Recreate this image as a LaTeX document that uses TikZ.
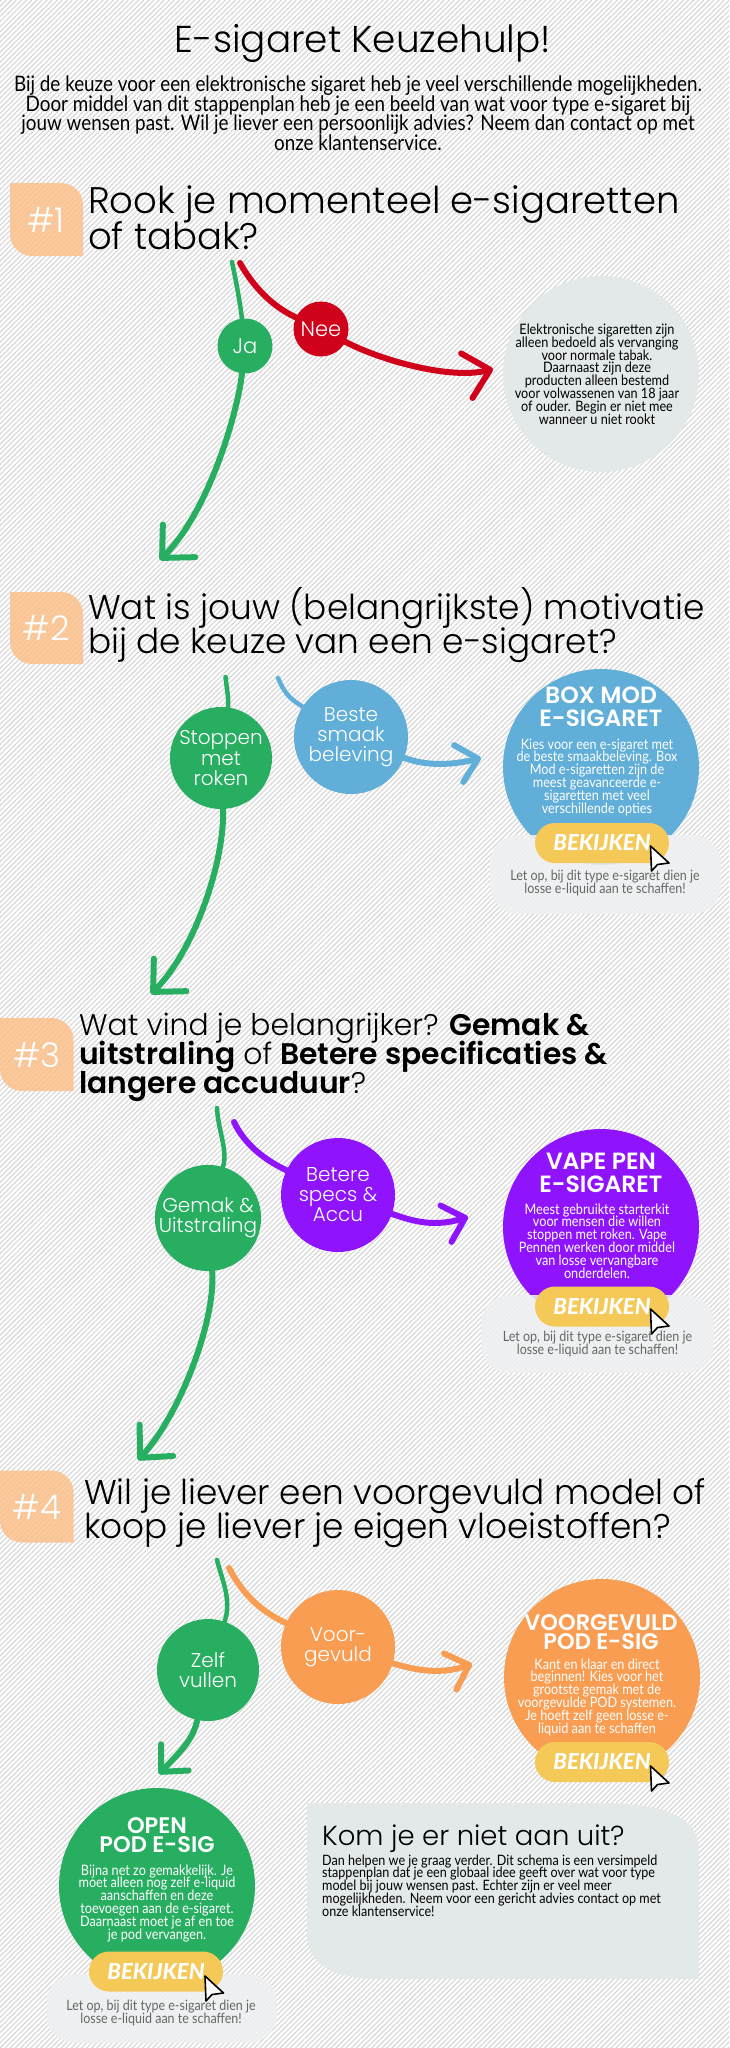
\documentclass[tikz,border=0pt]{standalone}
\usepackage{fontspec}
\usetikzlibrary{arrows.meta,patterns.meta,shapes.misc}
\setmainfont{Lato}
\newfontfamily\headfont[BoldFont=Poppins SemiBold]{Poppins Light}
\newfontfamily\bodyfont[FakeStretch=0.88]{Lato}
\newfontfamily\btnfont[BoldItalicFont=Lato Black Italic]{Lato}
\AtBeginDocument{\lineskiplimit=-100pt}
\definecolor{hatchgrey}{HTML}{D6D6D6}
\definecolor{kiesgreen}{HTML}{27AE60}
\definecolor{kiesred}{HTML}{D0021B}
\definecolor{kiesblue}{HTML}{61AFD8}
\definecolor{kiespurple}{HTML}{9013FE}
\definecolor{kiesorange}{HTML}{F99D53}
\definecolor{kiesyellow}{HTML}{F5C958}
\definecolor{kiesgrey}{HTML}{E3E8E8}
\definecolor{kiespeach}{HTML}{FBC08A}
\definecolor{notegrey}{HTML}{666666}
\definecolor{panelgrey}{HTML}{EEF0F1}
\tikzset{
  headline/.style={anchor=base,align=center,inner sep=0pt,font=\headfont\fontsize{37.4}{39}\selectfont},
  intro/.style={anchor=base,align=center,inner sep=0pt,font=\bodyfont\fontsize{21.4}{19.4}\selectfont},
  question/.style={anchor=base west,align=left,inner sep=0pt,font=\headfont\fontsize{34.3}{34}\selectfont},
  stepnum/.style={inner sep=0pt,text=white,font=\headfont\fontsize{34}{36}\selectfont},
  choice/.style={circle,inner sep=0pt,text=white,align=center,font=\headfont\fontsize{20}{20}\selectfont},
  smallchoice/.style={choice,minimum size=55pt,font=\headfont\fontsize{21}{21}\selectfont},
  midchoice/.style={choice,minimum size=102pt},
  bigchoice/.style={choice,minimum size=114pt},
  result/.style={circle,inner sep=0pt,minimum size=196pt},
  restitle/.style={anchor=base,inner sep=0pt,align=center,text=white,font=\headfont\bfseries\fontsize{23.5}{23}\selectfont},
  podtitle/.style={restitle,font=\headfont\bfseries\fontsize{22.5}{19}\selectfont},
  restext/.style={anchor=base,inner sep=0pt,align=center,text=white,font=\bodyfont\fontsize{14.4}{12.8}\selectfont},
  notetext/.style={anchor=base,inner sep=0pt,align=center,text=notegrey,font=\bodyfont\fontsize{14.2}{12.6}\selectfont},
  notepanel/.style={fill=panelgrey,fill opacity=.88,rounded corners=28pt},
  bekijken/.style={rounded rectangle,fill=kiesyellow,minimum width=134pt,minimum height=40pt,inner sep=0pt,
    text=white,font=\btnfont\fontsize{22}{22}\selectfont\bfseries\itshape},
  pointer/.style={draw=black,fill=white,line width=1.6pt,line join=round},
  bigtip/.style={-{Straight Barb[length=24pt,width=46pt,round]}},
  smalltip/.style={-{Straight Barb[length=20pt,width=38pt,round]}},
  flow/.style={line width=6pt,line cap=round},
  thinflow/.style={line width=4.5pt},
}
\newcommand{\leafbox}[4]{%
  \fill[kiespeach,fill opacity=.85] (#1,#2) [rounded corners=22pt] -- (#3,#2) [sharp corners] -- (#3,#4) [rounded corners=22pt] -- (#1,#4) [sharp corners] -- cycle;
}
\begin{document}
\begin{tikzpicture}[x=1pt,y=-1pt]
  \useasboundingbox (0,0) rectangle (729,2048);
  \fill[white] (0,0) rectangle (729,2048);
  \fill[pattern={Lines[angle=45,distance=3.6pt,line width=1.1pt]},pattern color=hatchgrey] (0,0) rectangle (729,2048);

  % intro
  \node[headline] (title) at (363,52) {E-sigaret Keuzehulp!};
  \node[intro] (introtext) at (358,150) {Bij de keuze voor een elektronische sigaret heb je veel verschillende mogelijkheden.\\
    Door middel van dit stappenplan heb je een beeld van wat voor type e-sigaret bij\\
    jouw wensen past. Wil je liever een persoonlijk advies? Neem dan contact op met\\
    onze klantenservice.};

  % step 1
  \leafbox{10}{183}{83}{256}
  \node[stepnum] (num1) at (46,220) {\#1};
  \node[question,font=\headfont\fontsize{37}{36}\selectfont] (q1) at (88,249) {Rook je momenteel e-sigaretten\\of tabak?};
  \node[smallchoice,fill=kiesgreen] (ja) at (245,346) {Ja};
  \node[smallchoice,fill=kiesred] (nee) at (321,329) {Nee};
  \node[result,fill=kiesgrey] (stopcircle) at (601,374) {};
  \node[restext,text=black] (stoptext) at (597,424) {Elektronische sigaretten zijn\\alleen bedoeld als vervanging\\voor normale tabak.\\Daarnaast zijn deze\\producten alleen bestemd\\voor volwassenen van 18 jaar\\of ouder. Begin er niet mee\\wanneer u niet rookt};
  \coordinate (jastart) at (232,262);
  \coordinate (jaend) at (160,560);
  \coordinate (neestart) at (240,263);
  \coordinate (neeend) at (493,369);
  \begin{scope}[flow]
    \draw[kiesgreen,thinflow] (jastart) .. controls (238,290) and (241,310) .. (ja);
    \draw[kiesgreen,bigtip] (ja) .. controls (238,410) and (210,510) .. (jaend);
    \draw[kiesred] (neestart) .. controls (258,295) and (280,310) .. (nee);
    \draw[kiesred,bigtip] (nee) .. controls (380,360) and (450,380) .. (neeend);
  \end{scope}

  % step 2
  \leafbox{10}{592}{83}{664}
  \node[stepnum] (num2) at (46,628) {\#2};
  \node[question] (q2) at (88,653) {Wat is jouw (belangrijkste) motivatie\\bij de keuze van een e-sigaret?};
  \node[midchoice,fill=kiesgreen] (stoppen) at (221,758) {Stoppen\\met\\roken};
  \node[bigchoice,fill=kiesblue] (smaak) at (351,737) {Beste\\smaak\\beleving};
  \node[result,fill=kiesblue] (boxmod) at (601,767) {};
  \node[restitle] (boxmodtitle) at (601,726) {BOX MOD\\E-SIGARET};
  \node[restext] (boxmodtext) at (597,813) {Kies voor een e-sigaret met\\de beste smaakbeleving. Box\\Mod e-sigaretten zijn de\\meest geavanceerde e-\\sigaretten met veel\\verschillende opties};
  \path[notepanel] (490,835) rectangle (721,914);
  \node[bekijken] (boxmodbtn) at (602,843) {BEKIJKEN};
  \draw[pointer] (650.5,846) -- (651.5,871) -- (657.5,864.5) -- (669,863) -- cycle;
  \node[notetext] (boxmodnote) at (605,893) {Let op, bij dit type e-sigaret dien je\\losse e-liquid aan te schaffen!};
  \coordinate (stoppenstart) at (225.5,677);
  \coordinate (stoppenend) at (151,994);
  \coordinate (smaakstart) at (278,678);
  \coordinate (smaakend) at (481,758);
  \begin{scope}[flow]
    \draw[kiesgreen,thinflow] (stoppenstart) .. controls (227,690) and (229,700) .. (stoppen);
    \draw[kiesgreen,bigtip] (stoppen) .. controls (225,860) and (195,950) .. (stoppenend);
    \draw[kiesblue,thinflow] (smaakstart) .. controls (285,695) and (292,700) .. (smaak);
    \draw[kiesblue,smalltip] (smaak) .. controls (420,764) and (445,767) .. (smaakend);
  \end{scope}

  % step 3
  \leafbox{0}{1018}{73.5}{1091}
  \node[stepnum] (num3) at (37,1055) {\#3};
  \node[question,font=\headfont\fontsize{29.8}{28.7}\selectfont] (q3) at (79,1093) {Wat vind je belangrijker? \textbf{Gemak \&}\\\textbf{uitstraling} of \textbf{Betere specificaties \&}\\\textbf{langere accuduur}?};
  \node[midchoice,fill=kiesgreen] (gemak) at (208,1218) {Gemak \&\\Uitstraling};
  \node[bigchoice,fill=kiespurple] (specs) at (338,1195) {Betere\\specs \&\\Accu};
  \node[result,fill=kiespurple] (vapepen) at (601,1227) {};
  \node[restitle] (vapepentitle) at (601,1192) {VAPE PEN\\E-SIGARET};
  \node[restext] (vapepentext) at (597,1278) {Meest gebruikte starterkit\\voor mensen die willen\\stoppen met roken. Vape\\Pennen werken door middel\\van losse vervangbare\\onderdelen.};
  \path[notepanel] (481,1295) rectangle (714,1373);
  \node[bekijken] (vapepenbtn) at (602,1306.5) {BEKIJKEN};
  \draw[pointer] (650.5,1309) -- (651.5,1334) -- (657.5,1327.5) -- (669,1326) -- cycle;
  \node[notetext] (vapepennote) at (597.5,1354) {Let op, bij dit type e-sigaret dien je\\losse e-liquid aan te schaffen!};
  \coordinate (gemakstart) at (217,1108);
  \coordinate (gemakend) at (138,1460);
  \coordinate (specsstart) at (234,1122);
  \coordinate (specsend) at (468,1217);
  \begin{scope}[flow]
    \draw[kiesgreen,thinflow] (gemakstart) .. controls (218,1130) and (228,1150) .. (gemak);
    \draw[kiesgreen,bigtip] (gemak) .. controls (216,1320) and (180,1415) .. (gemakend);
    \draw[kiespurple] (specsstart) .. controls (245,1145) and (265,1160) .. (specs);
    \draw[kiespurple,smalltip] (specs) .. controls (415,1222) and (435,1227) .. (specsend);
  \end{scope}

  % step 4
  \leafbox{0}{1470.5}{73.5}{1542.5}
  \node[stepnum] (num4) at (37,1507) {\#4};
  \node[question] (q4) at (84,1538) {Wil je liever een voorgevuld model of\\koop je liever je eigen vloeistoffen?};
  \node[midchoice,fill=kiesgreen] (zelf) at (208,1670) {Zelf\\vullen};
  \node[bigchoice,fill=kiesorange] (voor) at (338,1647) {Voor-\\gevuld};
  \node[result,fill=kiesorange] (voorpod) at (602,1677) {};
  \node[podtitle] (voorpodtitle) at (601,1649) {VOORGEVULD\\POD E-SIG};
  \node[restext] (voorpodtext) at (597,1733) {Kant en klaar en direct\\beginnen! Kies voor het\\grootste gemak met de\\voorgevulde POD systemen.\\Je hoeft zelf geen losse e-\\liquid aan te schaffen};
  \node[bekijken] (voorpodbtn) at (602,1762) {BEKIJKEN};
  \draw[pointer] (650.5,1766) -- (651.5,1791) -- (657.5,1784.5) -- (669,1783) -- cycle;
  \node[result,fill=kiesgreen] (openpod) at (157,1886) {};
  \node[podtitle] (openpodtitle) at (157,1852) {OPEN\\POD E-SIG};
  \node[restext] (openpodtext) at (157,1939) {Bijna net zo gemakkelijk. Je\\moet alleen nog zelf e-liquid\\aanschaffen en deze\\toevoegen aan de e-sigaret.\\Daarnaast moet je af en toe\\je pod vervangen.};
  \path[notepanel] (46.5,1974) rectangle (277,2043);
  \node[bekijken] (openpodbtn) at (156,1971.5) {BEKIJKEN};
  \draw[pointer] (205,1976) -- (206,2001) -- (212,1994.5) -- (223.5,1993) -- cycle;
  \node[notetext] (openpodnote) at (161,2023) {Let op, bij dit type e-sigaret dien je\\losse e-liquid aan te schaffen!};
  \coordinate (zelfstart) at (217,1560);
  \coordinate (zelfend) at (159,1774);
  \coordinate (voorstart) at (229,1568);
  \coordinate (voorend) at (472,1664);
  \begin{scope}[flow]
    \draw[kiesgreen,thinflow] (zelfstart) .. controls (222,1580) and (232,1600) .. (zelf);
    \draw[kiesgreen,smalltip] (zelf) .. controls (193,1740) and (180,1752) .. (zelfend);
    \draw[kiesorange] (voorstart) .. controls (243,1595) and (262,1612) .. (voor);
    \draw[kiesorange,smalltip] (voor) .. controls (415,1670) and (440,1675) .. (voorend);
  \end{scope}

  % contact
  \fill[kiesgrey] (307,1803) -- (600,1803) .. controls (660,1803) and (699,1815) .. (699,1850) -- (699,1979) -- (380,1979) .. controls (335,1979) and (307,1965) .. (307,1935) -- cycle;
  \node[question,font=\headfont\fontsize{27.5}{28}\selectfont] (contacthead) at (322,1845) {Kom je er niet aan uit?};
  \node[anchor=base west,align=left,inner sep=0pt,font=\bodyfont\fontsize{14.3}{12.7}\selectfont] (contacttext) at (322,1916) {Dan helpen we je graag verder. Dit schema is een versimpeld\\stappenplan dat je een globaal idee geeft over wat voor type\\model bij jouw wensen past. Echter zijn er veel meer\\mogelijkheden. Neem voor een gericht advies contact op met\\onze klantenservice!};
\end{tikzpicture}
\end{document}
